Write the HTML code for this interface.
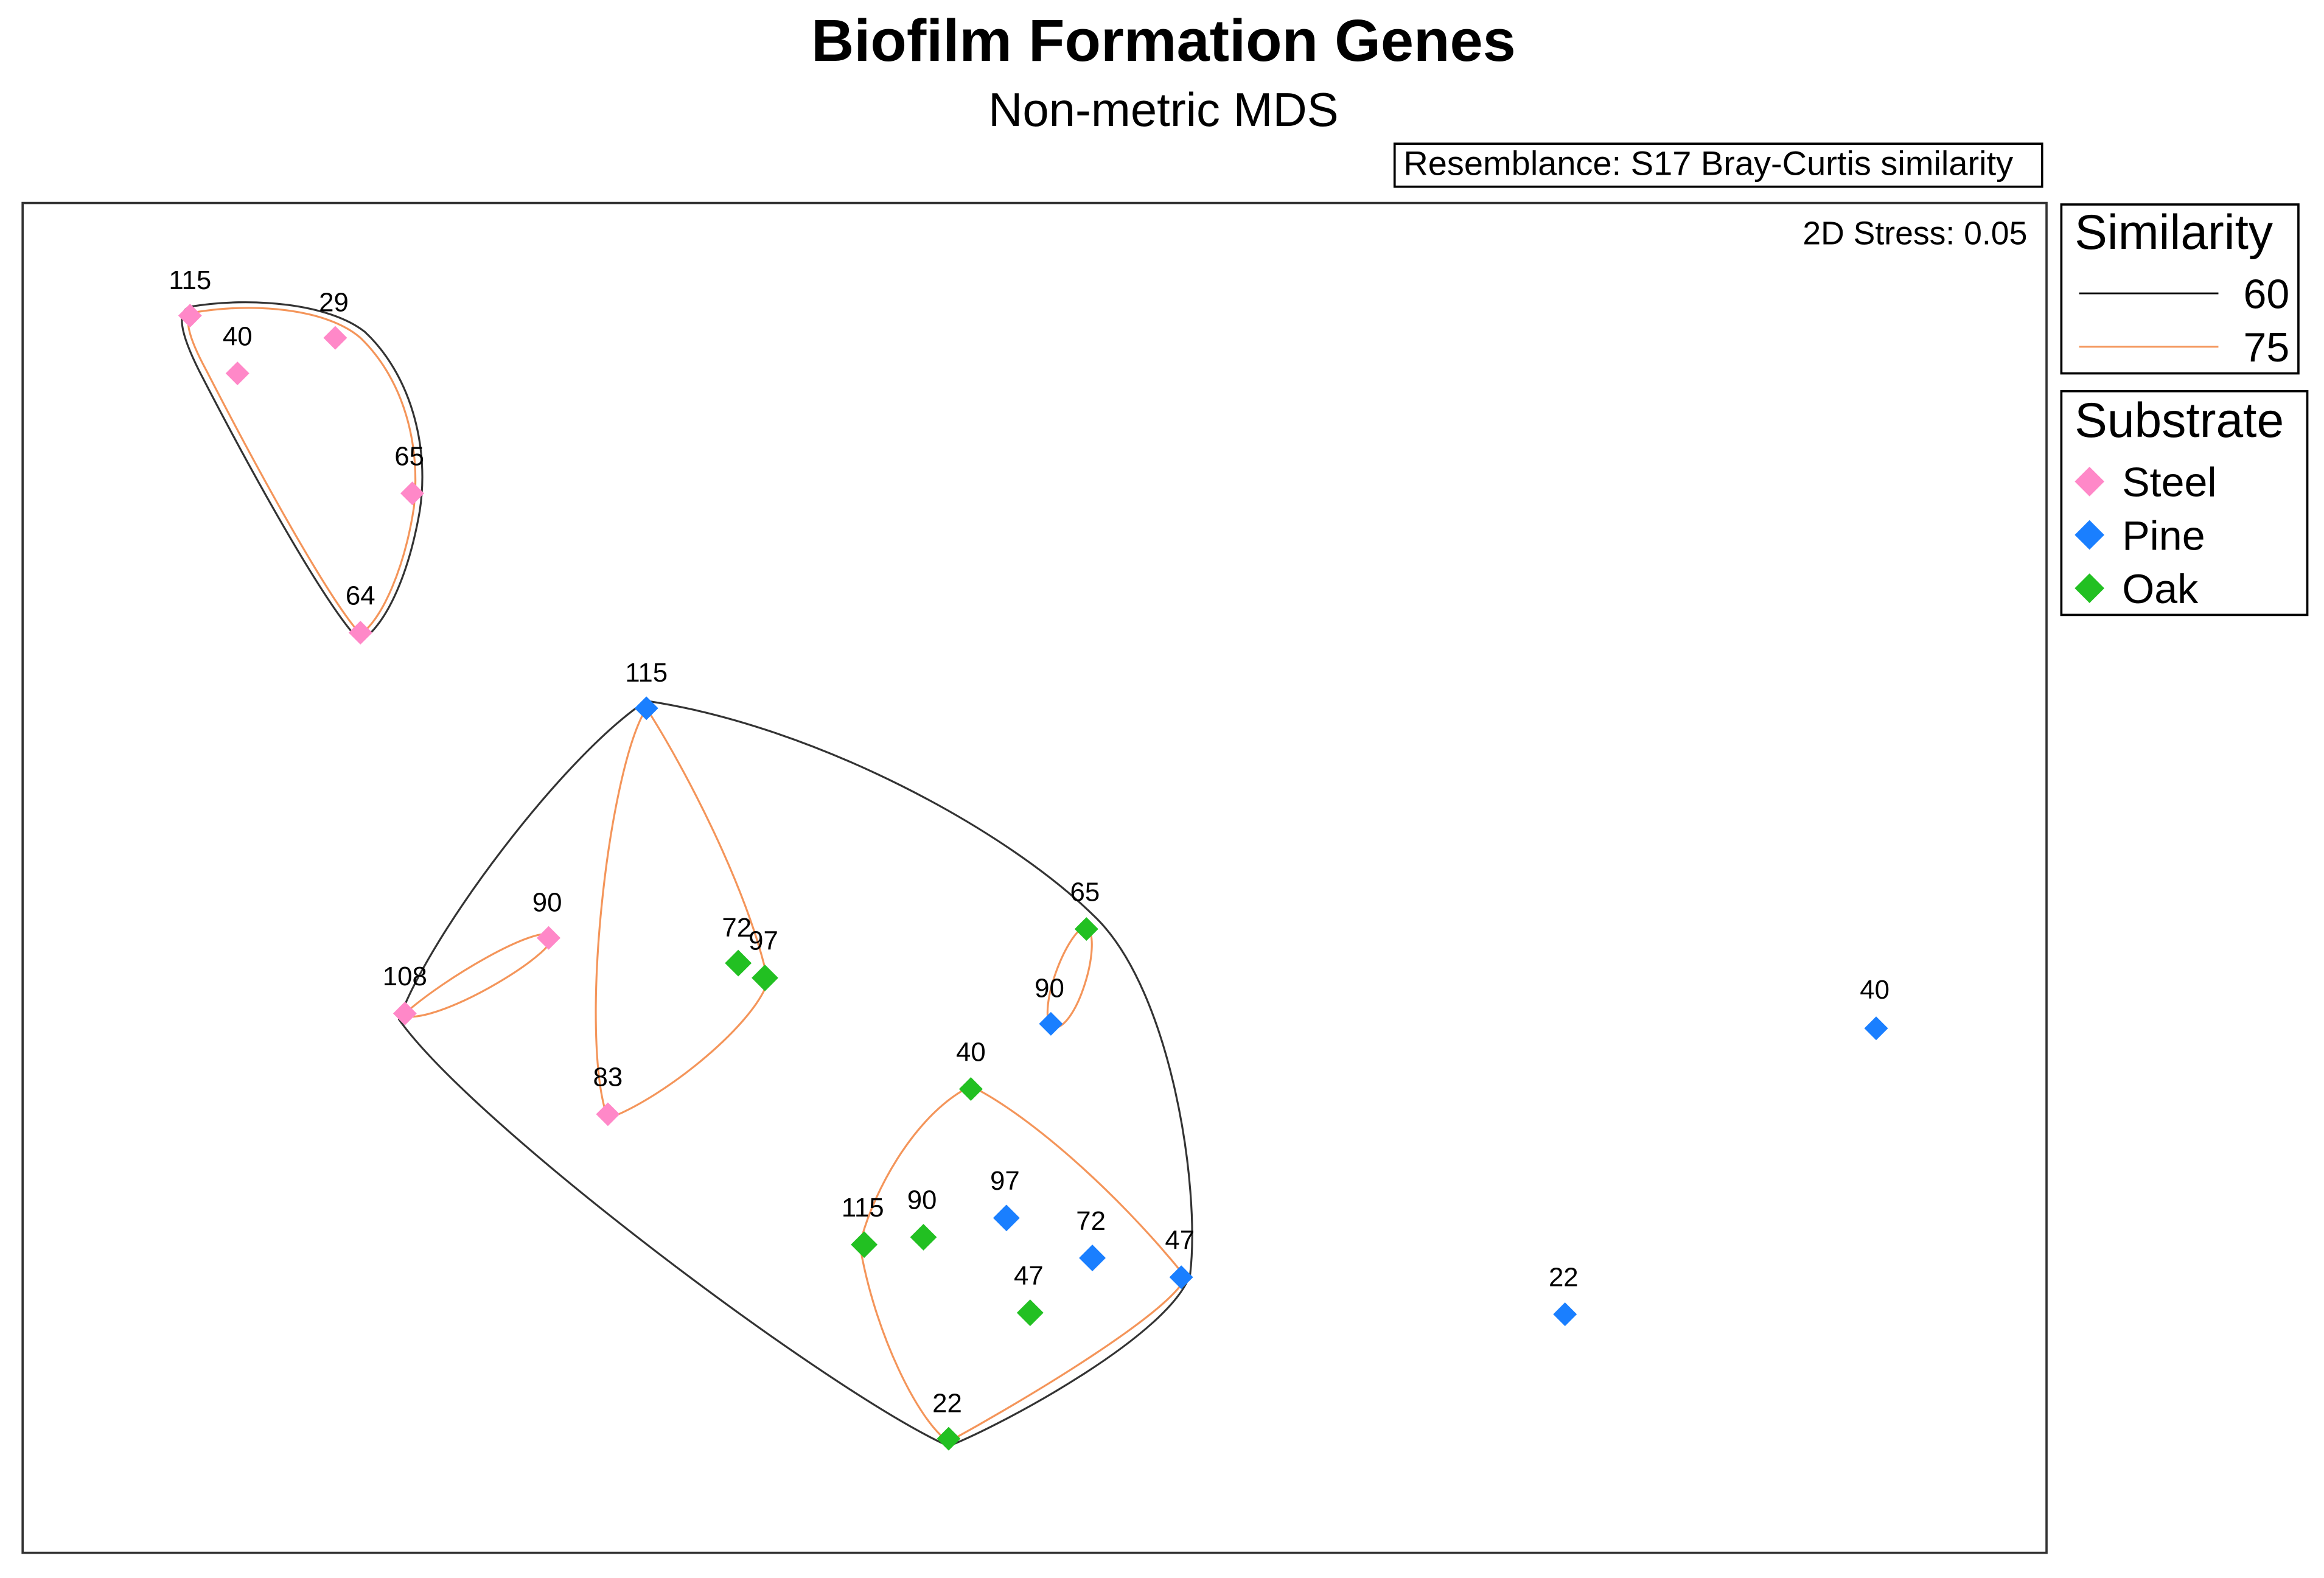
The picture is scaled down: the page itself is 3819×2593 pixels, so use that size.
<!DOCTYPE html>
<html><head><meta charset="utf-8"><style>
html,body{margin:0;padding:0;background:#fff}
svg{display:block}
text{font-family:"Liberation Sans",Arial,sans-serif;fill:#000}
.l{font-size:18px;text-anchor:middle}
</style></head><body>
<svg width="3819" height="2593" viewBox="0 0 1568 1065" xmlns="http://www.w3.org/2000/svg">
<rect width="1568" height="1065" fill="#fff"/>
<text x="785" y="41" font-size="40" font-weight="bold" text-anchor="middle">Biofilm Formation Genes</text>
<text x="785" y="85" font-size="32" text-anchor="middle">Non-metric MDS</text>
<rect x="941" y="97" width="437" height="29" fill="none" stroke="#000" stroke-width="1.5"/>
<text x="947" y="118" font-size="23">Resemblance: S17 Bray-Curtis similarity</text>
<rect x="15" y="137" width="1366" height="911" fill="none" stroke="#333" stroke-width="1.5"/>
<text x="1368" y="165" font-size="22" text-anchor="end">2D Stress: 0.05</text>
<rect x="1391" y="138" width="160" height="114" fill="none" stroke="#000" stroke-width="1.5"/>
<text x="1400" y="168" font-size="33">Similarity</text>
<line x1="1403" y1="198" x2="1497" y2="198" stroke="#000" stroke-width="1.2"/>
<text x="1545" y="208" font-size="28" text-anchor="end">60</text>
<line x1="1403" y1="234" x2="1497" y2="234" stroke="#f4955a" stroke-width="1.2"/>
<text x="1545" y="244" font-size="28" text-anchor="end">75</text>
<rect x="1391" y="264" width="166" height="151" fill="none" stroke="#000" stroke-width="1.5"/>
<text x="1400" y="295" font-size="33">Substrate</text>
<path d="M1410,315 l10,10 l-10,10 l-10,-10z" fill="#ff88c8"/>
<text x="1432" y="335" font-size="28">Steel</text>
<path d="M1410,351 l10,10 l-10,10 l-10,-10z" fill="#1a7fff"/>
<text x="1432" y="371" font-size="28">Pine</text>
<path d="M1410,387 l10,10 l-10,10 l-10,-10z" fill="#22c022"/>
<text x="1432" y="407" font-size="28">Oak</text>
<g fill="none" stroke-width="1.3">
<path stroke="#333" d="M128,207 C170,200 222,205 246,224 C276,252 290,300 283,345 C276,385 262,420 243,433 C220,410 170,320 134,250 C121,224 119,210 128,207 Z"/>
<path stroke="#f4955a" d="M130,211 C170,204 220,208 243,228 C272,256 284,300 279,343 C273,382 258,418 243,428 C222,405 175,320 139,250 C126,226 124,214 130,211 Z"/>
<path stroke="#333" d="M436,473 C550,490 680,560 740,620 C790,670 810,800 803,860 C790,900 680,960 640,976 C560,940 320,760 269,688 C290,630 380,510 436,473 Z"/>
<path stroke="#f4955a" d="M273,684 C300,660 360,625 372,631 C380,640 300,690 273,686 Z"/>
<path stroke="#f4955a" d="M436,478 C410,520 390,700 410,755 C450,740 510,690 518,662 C505,600 460,515 436,478 Z"/>
<path stroke="#f4955a" d="M733,625 C745,635 725,700 709,693 C700,680 720,628 733,625 Z"/>
<path stroke="#f4955a" d="M655,733 C620,750 590,800 580,840 C590,900 620,960 640,973 C700,940 790,885 800,862 C750,800 690,750 655,733 Z"/>
</g>
<g fill="#ff88c8">
<path d="M128,205 l8,8 l-8,8 l-8,-8z"/><path d="M160,244 l8,8 l-8,8 l-8,-8z"/><path d="M226,220 l8,8 l-8,8 l-8,-8z"/><path d="M278,325 l8,8 l-8,8 l-8,-8z"/><path d="M243,419 l8,8 l-8,8 l-8,-8z"/><path d="M370,625 l8,8 l-8,8 l-8,-8z"/><path d="M273,676 l8,8 l-8,8 l-8,-8z"/><path d="M410,744 l8,8 l-8,8 l-8,-8z"/>
</g>
<g fill="#1a7fff">
<path d="M436,470 l8,8 l-8,8 l-8,-8z"/><path d="M709,683 l8,8 l-8,8 l-8,-8z"/><path d="M679,813 l9,9 l-9,9 l-9,-9z"/><path d="M737,840 l9,9 l-9,9 l-9,-9z"/><path d="M797,854 l8,8 l-8,8 l-8,-8z"/><path d="M1056,879 l8,8 l-8,8 l-8,-8z"/><path d="M1266,686 l8,8 l-8,8 l-8,-8z"/>
</g>
<g fill="#22c022">
<path d="M498,641 l9,9 l-9,9 l-9,-9z"/><path d="M516,651 l9,9 l-9,9 l-9,-9z"/><path d="M733,619 l8,8 l-8,8 l-8,-8z"/><path d="M655,727 l8,8 l-8,8 l-8,-8z"/><path d="M583,831 l9,9 l-9,9 l-9,-9z"/><path d="M623,826 l9,9 l-9,9 l-9,-9z"/><path d="M695,877 l9,9 l-9,9 l-9,-9z"/><path d="M640,963 l8,8 l-8,8 l-8,-8z"/>
</g>
<g>
<text class="l" x="128" y="195">115</text><text class="l" x="160" y="233">40</text><text class="l" x="225" y="210">29</text><text class="l" x="276" y="314">65</text><text class="l" x="243" y="408">64</text><text class="l" x="369" y="615">90</text><text class="l" x="273" y="665">108</text><text class="l" x="410" y="733">83</text>
<text class="l" x="436" y="460">115</text><text class="l" x="708" y="673">90</text><text class="l" x="678" y="803">97</text><text class="l" x="736" y="830">72</text><text class="l" x="796" y="843">47</text><text class="l" x="1055" y="868">22</text><text class="l" x="1265" y="674">40</text>
<text class="l" x="497" y="632">72</text><text class="l" x="515" y="641">97</text><text class="l" x="732" y="608">65</text><text class="l" x="655" y="716">40</text><text class="l" x="582" y="821">115</text><text class="l" x="622" y="816">90</text><text class="l" x="694" y="867">47</text><text class="l" x="639" y="953">22</text>
</g>
</svg>
</body></html>
